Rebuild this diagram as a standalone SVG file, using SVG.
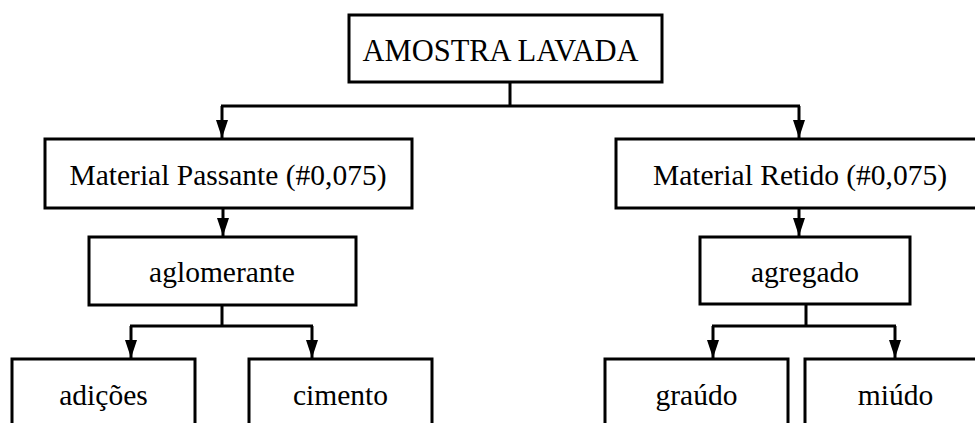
<svg xmlns="http://www.w3.org/2000/svg" width="975" height="423" viewBox="0 0 975 423">
  <style>
    .box { fill: #ffffff; stroke: #000000; stroke-width: 3; }
    .lbl { font-family: "Liberation Serif", "Times New Roman", serif; font-size: 29.5px; fill: #000000; text-anchor: middle; }
    .title { font-size: 30.5px; }
    .wire { fill: none; stroke: #000000; stroke-width: 3; }
  </style>
  <defs>
    <marker id="arrow" markerUnits="userSpaceOnUse" markerWidth="18" markerHeight="12" refX="18" refY="6" orient="auto">
      <path d="M0,0 L18,6 L0,12 Z" fill="#000000"/>
    </marker>
  </defs>
  <rect width="975" height="423" fill="#ffffff"/>

  <g id="connectors">
    <path class="wire" d="M510,82 V106 M221,106 H800"/>
    <line class="wire" x1="222" y1="106" x2="222" y2="138" marker-end="url(#arrow)"/>
    <line class="wire" x1="799" y1="106" x2="799" y2="138" marker-end="url(#arrow)"/>
    <line class="wire" x1="223" y1="208" x2="223" y2="236" marker-end="url(#arrow)"/>
    <line class="wire" x1="799" y1="208" x2="799" y2="236" marker-end="url(#arrow)"/>
    <path class="wire" d="M222,305 V326 M130,326 H313"/>
    <line class="wire" x1="131" y1="326" x2="131" y2="358" marker-end="url(#arrow)"/>
    <line class="wire" x1="312" y1="326" x2="312" y2="358" marker-end="url(#arrow)"/>
    <path class="wire" d="M806,304 V326 M712,326 H896"/>
    <line class="wire" x1="713" y1="326" x2="713" y2="358" marker-end="url(#arrow)"/>
    <line class="wire" x1="895" y1="326" x2="895" y2="358" marker-end="url(#arrow)"/>
  </g>

  <g id="amostra-lavada">
    <rect class="box" x="349" y="15" width="313" height="67"/>
    <text class="lbl title" x="500.5" y="61">AMOSTRA LAVADA</text>
  </g>

  <g id="material-passante">
    <rect class="box" x="45" y="139" width="367" height="69"/>
    <text class="lbl" x="228" y="184.5">Material Passante (#0,075)</text>
  </g>

  <g id="material-retido">
    <rect class="box" x="616" y="139" width="370" height="69"/>
    <text class="lbl" x="800" y="184.5">Material Retido (#0,075)</text>
  </g>

  <g id="aglomerante">
    <rect class="box" x="89" y="237" width="267" height="68"/>
    <text class="lbl" x="222" y="282">aglomerante</text>
  </g>

  <g id="agregado">
    <rect class="box" x="700" y="237" width="210" height="67"/>
    <text class="lbl" x="805" y="282">agregado</text>
  </g>

  <g id="adicoes">
    <rect class="box" x="12" y="359" width="183" height="100"/>
    <text class="lbl" x="103.5" y="405">adições</text>
  </g>

  <g id="cimento">
    <rect class="box" x="249" y="359" width="183" height="100"/>
    <text class="lbl" x="340.5" y="405">cimento</text>
  </g>

  <g id="graudo">
    <rect class="box" x="605" y="359" width="183" height="100"/>
    <text class="lbl" x="696.5" y="405">graúdo</text>
  </g>

  <g id="miudo">
    <rect class="box" x="805" y="359" width="183" height="100"/>
    <text class="lbl" x="895.5" y="405">miúdo</text>
  </g>
</svg>
